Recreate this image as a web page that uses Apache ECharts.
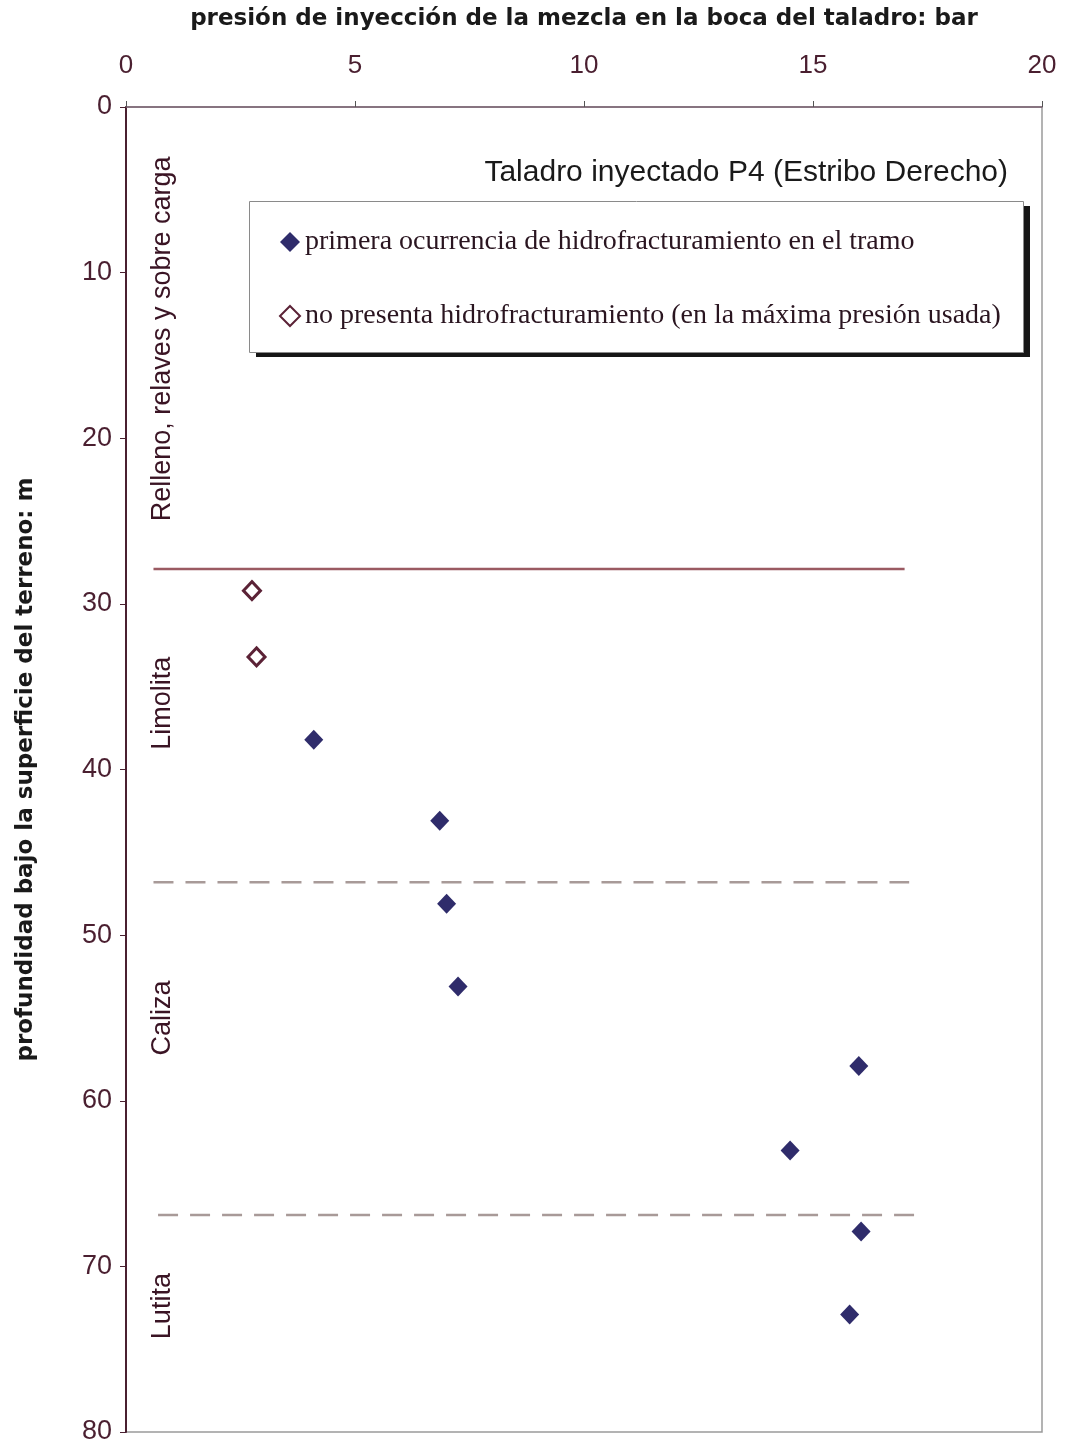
<!DOCTYPE html>
<html>
<head>
<meta charset="utf-8">
<script src="https://cdn.jsdelivr.net/npm/echarts@6/dist/echarts.min.js"></script>
<style>
  html, body { margin: 0; padding: 0; background: #fff; }
  #chart { width: 1065px; height: 1448px; }
</style>
</head>
<body>
<div id="chart"></div>
<script>
// Injection pressure at the borehole collar (bar) vs. depth (m)
const fracturedPressure = [4.1, 6.85, 7.0, 7.25, 16.0, 14.5, 16.05, 15.8];
const fracturedDepth    = [38.2, 43.1, 48.1, 53.1, 57.9, 63.0, 67.9, 72.9];
const intactPressure    = [2.75, 2.85];
const intactDepth       = [29.2, 33.2];

// Stratum boundaries (depth, m) and the pressure span each line covers
const contactDepths  = [27.9, 46.8, 66.9];
const contactFrom    = [0.6, 0.6, 0.7];
const contactTo      = [17.0, 17.1, 17.3];

// Stratum names and the depth at which each label is centred
const strata      = ['Relleno, relaves y sobre carga', 'Limolita', 'Caliza', 'Lutita'];
const strataDepth = [14.0, 36.0, 55.0, 72.4];
const strataX     = 0.8;

const xTicks = [0, 5, 10, 15, 20];
const yTicks = [0, 10, 20, 30, 40, 50, 60, 70, 80];

const labelColor = '#4a1f30';
const sans = '"Liberation Sans", Arial, sans-serif';
const wideSans = '"DejaVu Sans", Verdana, sans-serif';
const serif = '"Liberation Serif", "Times New Roman", serif';

const zip = (a, b) => a.map((v, i) => [v, b[i]]);

const contactSeries = contactDepths.map((d, i) => ({
  type: 'line',
  silent: true,
  symbol: 'none',
  z: 1,
  data: [[contactFrom[i], d], [contactTo[i], d]],
  lineStyle: i === 0
    ? { color: '#9a5a62', width: 2.5, type: 'solid' }
    : { color: '#a89a98', width: 2.5, type: [20, 12] }
}));

const option = {
  backgroundColor: '#ffffff',
  animation: false,
  title: {
    text: 'Taladro inyectado P4 (Estribo Derecho)',
    right: 52,
    top: 153,
    textStyle: { fontFamily: sans, fontSize: 30, fontWeight: 'normal', color: '#1a1a1a' }
  },
  // legend frame: dark offset block underneath, white panel on top
  graphic: [
    {
      type: 'rect',
      left: 256,
      top: 206,
      z: 10,
      shape: { width: 774, height: 151 },
      style: { fill: '#161616' }
    },
    {
      type: 'rect',
      left: 249,
      top: 201,
      z: 11,
      shape: { width: 774, height: 151 },
      style: { fill: '#ffffff', stroke: '#8a8a8a', lineWidth: 1 }
    }
  ],
  legend: {
    orient: 'vertical',
    left: 279,
    top: 228,
    padding: 0,
    itemGap: 46,
    itemWidth: 20,
    itemHeight: 20,
    z: 20,
    textStyle: { fontFamily: serif, fontSize: 28, color: '#2a1520' },
    data: [
      { name: 'primera ocurrencia de hidrofracturamiento en el tramo' },
      { name: 'no presenta hidrofracturamiento (en la máxima presión usada)' }
    ]
  },
  grid: {
    left: 126, right: 23, top: 107, bottom: 16,
    outerBoundsMode: 'none',
    show: true, borderColor: '#9a9a9a', borderWidth: 1.5
  },
  xAxis: {
    type: 'value',
    position: 'top',
    min: 0, max: 20, interval: 5,
    name: 'presión de inyección de la mezcla en la boca del taladro: bar',
    nameLocation: 'middle',
    nameGap: 76,
    nameTextStyle: { fontFamily: wideSans, fontSize: 23, fontWeight: 'bold', color: '#1a1a1a' },
    axisLine: { show: true, lineStyle: { color: '#7a6070', width: 1.5 } },
    axisTick: { show: true, length: 6, lineStyle: { color: '#555' } },
    axisLabel: {
      fontFamily: sans, fontSize: 26, color: labelColor, margin: 28,
      formatter: v => (xTicks.includes(v) ? String(v) : '')
    },
    splitLine: { show: false }
  },
  yAxis: {
    type: 'value',
    inverse: true,
    min: 0, max: 80, interval: 10,
    name: 'profundidad bajo la superficie del terreno: m',
    nameLocation: 'middle',
    nameGap: 88,
    nameRotate: 90,
    nameTextStyle: { fontFamily: wideSans, fontSize: 23, fontWeight: 'bold', color: '#1a1a1a' },
    axisLine: { show: true, lineStyle: { color: '#4a2030', width: 2 } },
    axisTick: { show: true, length: 6, lineStyle: { color: '#4a2030' } },
    axisLabel: {
      fontFamily: sans, fontSize: 27, color: labelColor, margin: 14,
      formatter: v => (yTicks.includes(v) ? String(v) : '')
    },
    splitLine: { show: false }
  },
  series: [
    ...contactSeries,
    {
      name: 'primera ocurrencia de hidrofracturamiento en el tramo',
      type: 'scatter',
      symbol: 'diamond',
      symbolSize: [19, 20],
      z: 5,
      itemStyle: { color: '#2f2c6b', opacity: 1 },
      data: zip(fracturedPressure, fracturedDepth)
    },
    {
      name: 'no presenta hidrofracturamiento (en la máxima presión usada)',
      type: 'scatter',
      symbol: 'diamond',
      symbolSize: [17, 18],
      z: 5,
      itemStyle: { color: '#ffffff', borderColor: '#5b2236', borderWidth: 3, opacity: 1 },
      data: zip(intactPressure, intactDepth)
    },
    {
      type: 'scatter',
      silent: true,
      symbolSize: 0,
      z: 4,
      itemStyle: { opacity: 1 },
      data: strata.map((s, i) => ({ value: [strataX, strataDepth[i]], name: s })),
      label: {
        show: true,
        position: 'inside',
        rotate: 90,
        formatter: p => p.name,
        fontFamily: sans,
        fontSize: 27,
        color: '#3a1424'
      }
    }
  ]
};

const chart = echarts.init(document.getElementById('chart'), null, { renderer: 'canvas' });
chart.setOption(option);
</script>
</body>
</html>
